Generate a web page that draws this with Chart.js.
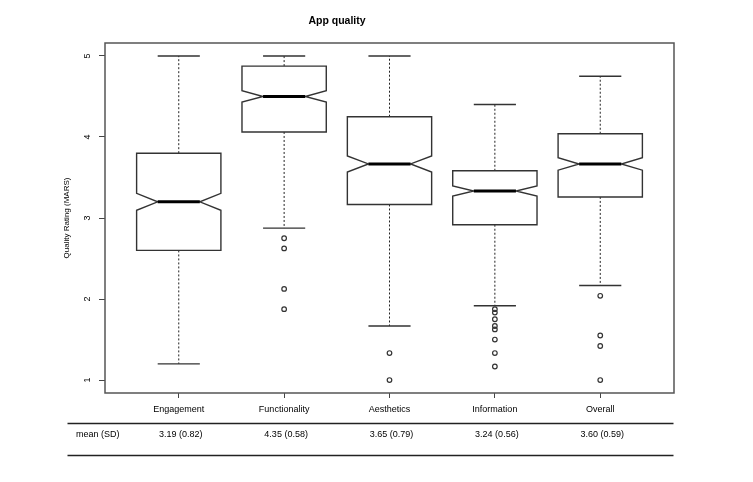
<!DOCTYPE html>
<html>
<head>
<meta charset="utf-8">
<script src="https://cdn.jsdelivr.net/npm/chart.js@4.4.1/dist/chart.umd.min.js"></script>
<style>
html,body{margin:0;padding:0;background:#fff;}
canvas{display:block;}
</style>
</head>
<body>
<canvas id="c" width="753" height="482"></canvas>
<script>
// ---- data ----
const categories = ["Engagement", "Functionality", "Aesthetics", "Information", "Overall"];
const whiskerLow  = [1.20, 2.875, 1.667, 1.917, 2.167];
const q1          = [2.60, 4.062, 3.167, 2.917, 3.26];
const median      = [3.20, 4.50, 3.667, 3.333, 3.667];
const q3          = [3.80, 4.875, 4.25, 3.583, 4.04];
const whiskerHigh = [5.00, 5.00, 5.00, 4.40, 4.75];
const notchLow    = [3.095, 4.43, 3.568, 3.272, 3.59];
const notchHigh   = [3.305, 4.57, 3.766, 3.395, 3.744];
const outliers = [
  [],
  [2.75, 2.625, 2.125, 1.875],
  [1.333, 1.0],
  [1.875, 1.833, 1.75, 1.667, 1.625, 1.5, 1.333, 1.167],
  [2.04, 1.55, 1.42, 1.0]
];
const means = [3.19, 4.35, 3.65, 3.24, 3.60];
const sds   = [0.82, 0.58, 0.79, 0.56, 0.59];
const yTicks = [1, 2, 3, 4, 5];
const tableRowLabel = "mean (SD)";

const FONT = "'Liberation Sans', Arial, Helvetica, sans-serif";

const outlierPoints = [];
outliers.forEach((arr, i) => arr.forEach(v => outlierPoints.push({x: i + 1, y: v})));

const boxPlugin = {
  id: 'boxes',
  beforeDatasetsDraw(chart) {
    const {ctx, scales: {x, y}, chartArea: a} = chart;
    ctx.save();
    // frame
    ctx.strokeStyle = '#555';
    ctx.lineWidth = 1.5;
    ctx.strokeRect(a.left, a.top, a.right - a.left, a.bottom - a.top);
    const hw = 0.4, nw = 0.2, sw = 0.2;
    categories.forEach((c, i) => {
      const cx = i + 1;
      const X = v => x.getPixelForValue(v);
      const Y = v => y.getPixelForValue(v);
      // whiskers (dotted)
      ctx.strokeStyle = '#222';
      ctx.lineWidth = 1;
      ctx.setLineDash([2, 2]);
      ctx.beginPath();
      ctx.moveTo(X(cx), Y(q3[i])); ctx.lineTo(X(cx), Y(whiskerHigh[i]));
      ctx.moveTo(X(cx), Y(q1[i])); ctx.lineTo(X(cx), Y(whiskerLow[i]));
      ctx.stroke();
      ctx.setLineDash([]);
      // staples
      ctx.strokeStyle = '#333';
      ctx.lineWidth = 1.4;
      ctx.beginPath();
      ctx.moveTo(X(cx - sw), Y(whiskerHigh[i])); ctx.lineTo(X(cx + sw), Y(whiskerHigh[i]));
      ctx.moveTo(X(cx - sw), Y(whiskerLow[i])); ctx.lineTo(X(cx + sw), Y(whiskerLow[i]));
      ctx.stroke();
      // notched box
      ctx.beginPath();
      ctx.moveTo(X(cx - hw), Y(q1[i]));
      ctx.lineTo(X(cx - hw), Y(notchLow[i]));
      ctx.lineTo(X(cx - nw), Y(median[i]));
      ctx.lineTo(X(cx - hw), Y(notchHigh[i]));
      ctx.lineTo(X(cx - hw), Y(q3[i]));
      ctx.lineTo(X(cx + hw), Y(q3[i]));
      ctx.lineTo(X(cx + hw), Y(notchHigh[i]));
      ctx.lineTo(X(cx + nw), Y(median[i]));
      ctx.lineTo(X(cx + hw), Y(notchLow[i]));
      ctx.lineTo(X(cx + hw), Y(q1[i]));
      ctx.closePath();
      ctx.fillStyle = '#fff';
      ctx.fill();
      ctx.strokeStyle = '#333';
      ctx.lineWidth = 1.4;
      ctx.stroke();
      // median
      ctx.strokeStyle = '#000';
      ctx.lineWidth = 3;
      ctx.beginPath();
      ctx.moveTo(X(cx - nw), Y(median[i])); ctx.lineTo(X(cx + nw), Y(median[i]));
      ctx.stroke();
    });
    ctx.restore();
  },
  afterDraw(chart) {
    const {ctx, scales: {x}} = chart;
    ctx.save();
    ctx.strokeStyle = '#222';
    ctx.lineWidth = 1.5;
    ctx.beginPath();
    ctx.moveTo(67.5, 423.5); ctx.lineTo(673.5, 423.5);
    ctx.moveTo(67.5, 455.5); ctx.lineTo(673.5, 455.5);
    ctx.stroke();
    ctx.fillStyle = '#000';
    ctx.font = '9px ' + FONT;
    ctx.textBaseline = 'middle';
    ctx.textAlign = 'left';
    ctx.fillText(tableRowLabel, 76, 435);
    ctx.textAlign = 'center';
    means.forEach((m, i) => {
      ctx.fillText(m.toFixed(2) + ' (' + sds[i].toFixed(2) + ')', x.getPixelForValue(i + 1) + 2, 435);
    });
    ctx.restore();
  }
};

new Chart(document.getElementById('c'), {
  type: 'scatter',
  data: {
    datasets: [{
      label: 'Outliers',
      data: outlierPoints,
      pointStyle: 'circle',
      pointRadius: 2.3,
      pointHoverRadius: 2.3,
      backgroundColor: 'rgba(0,0,0,0)',
      borderColor: '#333',
      borderWidth: 1.2
    }]
  },
  plugins: [boxPlugin],
  options: {
    responsive: false,
    animation: false,
    devicePixelRatio: 1,
    layout: {padding: {left: 0, right: 79, top: 0, bottom: 59}},
    plugins: {
      legend: {display: false},
      tooltip: {enabled: false},
      title: {
        display: true,
        text: 'App quality',
        color: '#000',
        font: {family: FONT, size: 10.5, weight: 'bold'},
        padding: {top: 14.7, bottom: 15.7}
      }
    },
    scales: {
      x: {
        type: 'linear',
        min: 0.3,
        max: 5.7,
        afterBuildTicks: s => { s.ticks = categories.map((c, i) => ({value: i + 1})); },
        afterFit: s => { s.height = 30; },
        border: {display: false},
        grid: {display: true, drawOnChartArea: false, drawTicks: true, tickLength: 5, color: '#444', lineWidth: 1},
        ticks: {
          color: '#000',
          font: {family: FONT, size: 9},
          padding: 6,
          maxRotation: 0,
          minRotation: 0,
          autoSkip: false,
          callback: v => categories[Math.round(v) - 1]
        }
      },
      y: {
        type: 'linear',
        min: 0.84,
        max: 5.16,
        afterBuildTicks: s => { s.ticks = yTicks.map(v => ({value: v})); },
        afterFit: s => { s.width = 105; },
        border: {display: false},
        grid: {display: true, drawOnChartArea: false, drawTicks: true, tickLength: 6, color: '#444', lineWidth: 1},
        title: {
          display: true,
          text: 'Quality Rating (MARS)',
          color: '#000',
          font: {family: FONT, size: 8},
          padding: {top: 62, bottom: 0}
        },
        ticks: {
          color: '#000',
          font: {family: FONT, size: 9},
          padding: 8.5,
          minRotation: 90,
          maxRotation: 90,
          crossAlign: 'center',
          autoSkip: false,
          callback: v => String(v)
        }
      }
    }
  }
});
</script>
</body>
</html>
